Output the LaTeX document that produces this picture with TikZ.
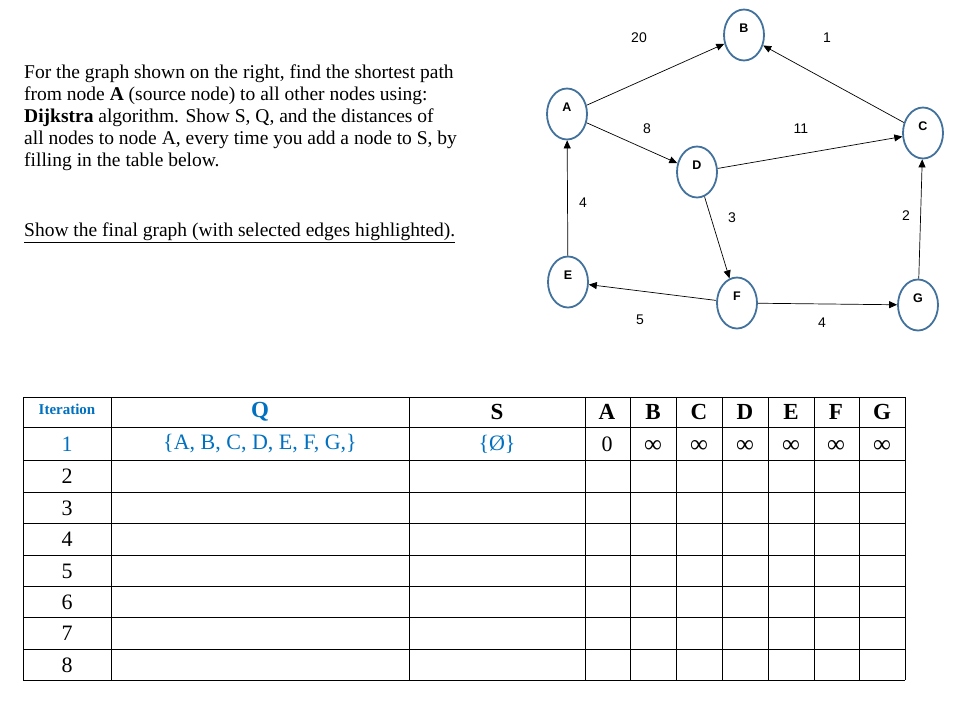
\documentclass[tikz,border=0pt]{standalone}
\usepackage{fontspec}
\setmainfont{Liberation Serif}
\newfontfamily\gsans{Liberation Sans}
\usetikzlibrary{shapes.geometric,arrows.meta}
\definecolor{nodeblue}{RGB}{65,113,156}
\definecolor{txtblue}{RGB}{0,112,192}
\begin{document}
\begin{tikzpicture}[x=1pt,y=-1pt,
  gnode/.style={ellipse,draw=nodeblue,line width=1.8pt,minimum width=40pt,minimum height=51pt,inner sep=0pt,font=\gsans\bfseries\fontsize{12.5}{12.5}\selectfont},
  edge/.style={-{Triangle[length=8pt,width=7pt]},line width=0.7pt},
  wl/.style={font=\gsans\fontsize{14}{14}\selectfont},
  tl/.style={line width=0.7pt},
  para/.style={anchor=west,font=\fontsize{19.5}{20}\selectfont,inner sep=0pt}]
\useasboundingbox (0,0) rectangle (961,707);
% paragraph
\node[para] (p1) at (24,74) {For the graph shown on the right, find the shortest path};
\node[para] (p2) at (24,96) {from node \textbf{A} (source node) to all other nodes using:};
\node[para] (p3) at (24,118) {\textbf{Dijkstra} algorithm. Show S, Q, and the distances of};
\node[para] (p4) at (24,140) {all nodes to node A, every time you add a node to S, by};
\node[para] (p5) at (24,162) {filling in the table below.};
\node[para] (p6) at (24,233) {\underline{Show the final graph (with selected edges highlighted).}};
% graph
\node[gnode] (A) at (567,114) {\raisebox{14pt}{A}};
\node[gnode] (B) at (744,35) {\raisebox{14pt}{B}};
\node[gnode] (C) at (923,133) {\raisebox{14pt}{C}};
\node[gnode] (D) at (697,172) {\raisebox{14pt}{D}};
\node[gnode] (E) at (568,282) {\raisebox{14pt}{E}};
\node[gnode] (F) at (737,303) {\raisebox{14pt}{F}};
\node[gnode] (G) at (918,305) {\raisebox{14pt}{G}};
\draw[edge] (A) -- (B);
\draw[edge] (C) -- (B);
\draw[edge] (A) -- (D);
\draw[edge] (D) -- (C);
\draw[edge] (E) -- (A);
\draw[edge] (D) -- (F);
\draw[edge] (G) -- (C);
\draw[edge] (F) -- (E);
\draw[edge] (F) -- (G);
\node[wl] (w1) at (639,38) {20};
\node[wl] (w2) at (827,38) {1};
\node[wl] (w3) at (647,129) {8};
\node[wl] (w4) at (801,129) {11};
\node[wl] (w5) at (583,203) {4};
\node[wl] (w6) at (732,218) {3};
\node[wl] (w7) at (906,216) {2};
\node[wl] (w8) at (640,320) {5};
\node[wl] (w9) at (822,323) {4};
% table
\foreach \y in {397,427,460,492,523,555,586,617,649,680} \draw[tl] (23,\y) -- (905,\y);
\foreach \x in {23,111,409,585,630,676,722,768,814,859,905} \draw[tl] (\x,397) -- (\x,680);
\node[font=\bfseries\fontsize{15}{15}\selectfont,text=txtblue] (hI) at (67,409) {Iteration};
\node[font=\bfseries\fontsize{23}{23}\selectfont,text=txtblue] (hQ) at (260,412) {Q};
\foreach \t/\x in {S/497,A/607,B/653,C/699,D/745,E/791,F/836,G/882}
  \node[font=\bfseries\fontsize{23}{23}\selectfont] (h\t) at (\x,412) {\t};
\node[font=\fontsize{22}{22}\selectfont,text=txtblue] (r1) at (67,444) {1};
\node[font=\fontsize{22}{22}\selectfont,text=txtblue] (q1) at (260,444) {\{A, B, C, D, E, F, G,\}};
\node[font=\fontsize{22}{22}\selectfont,text=txtblue] (s1) at (497,444) {\{Ø\}};
\node[font=\fontsize{22}{22}\selectfont] (a1) at (607,444) {0};
\foreach \x in {653,699,745,791,836,882}
  \node[font=\fontsize{25}{25}\selectfont] at (\x,446) {∞};
\foreach \n/\y in {2/476,3/508,4/539,5/571,6/602,7/633,8/665}
  \node[font=\fontsize{22}{22}\selectfont] (r\n) at (67,\y) {\n};
\end{tikzpicture}
\end{document}
